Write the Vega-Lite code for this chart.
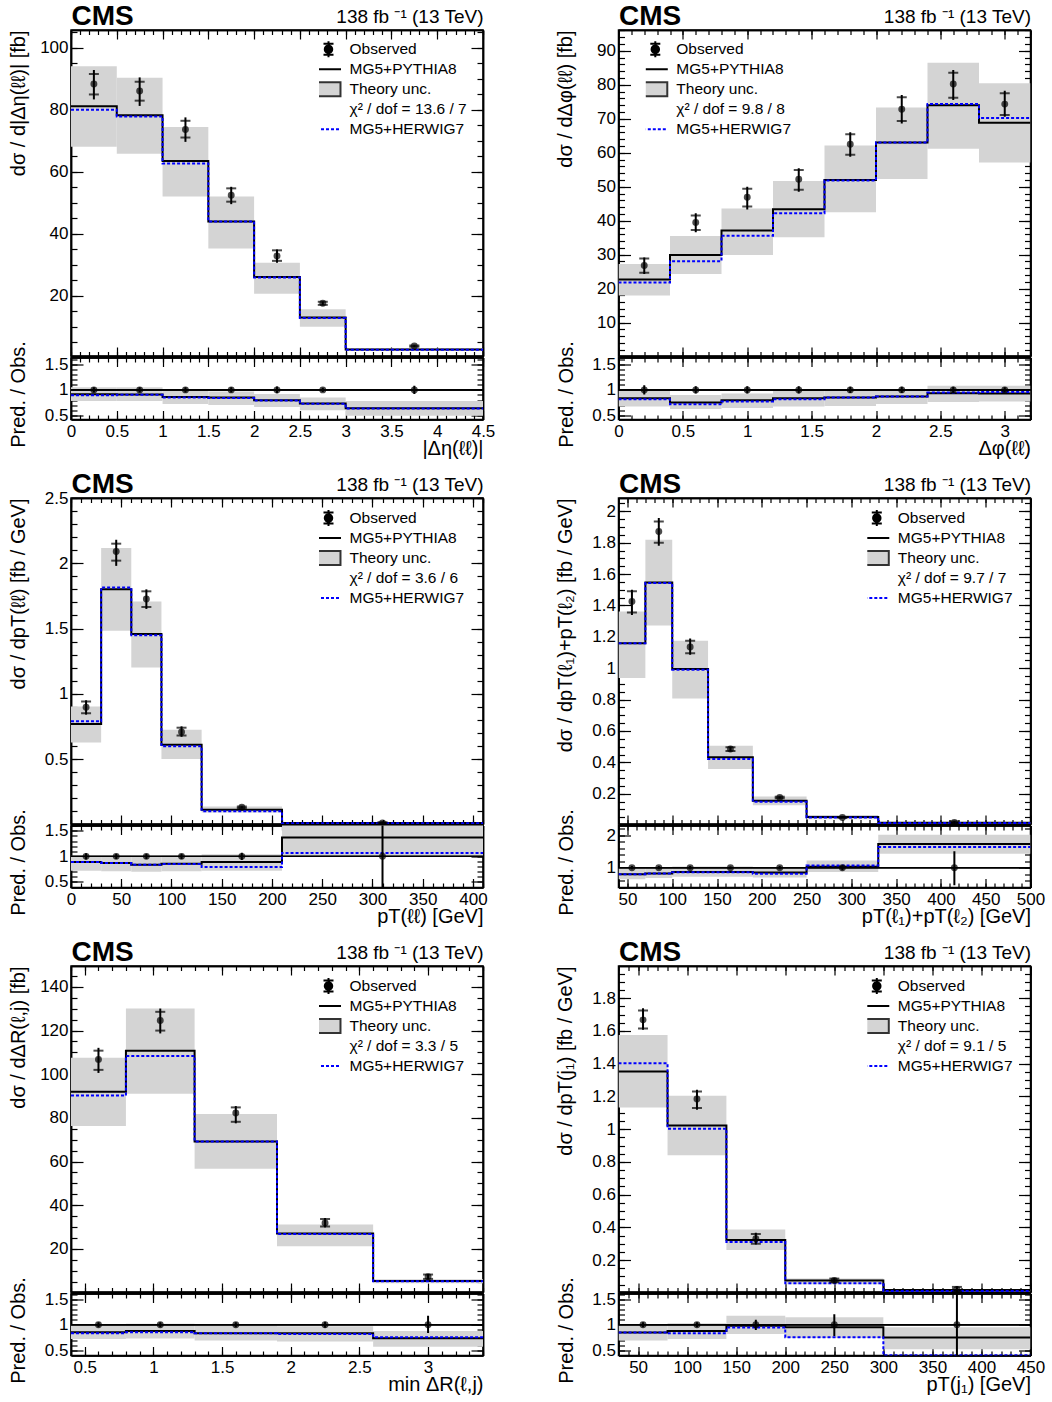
{
"$schema": "https://vega.github.io/schema/vega-lite/v6.json",
"padding": {"left": 7, "top": 1, "right": 5, "bottom": 2},
"config": {
 "font": "Liberation Sans",
 "numberFormat": "~f",
 "view": {"stroke": "black", "strokeWidth": 1.5},
 "axis": {"domain": true, "domainColor": "black", "domainWidth": 1.5, "grid": false, "labels": false, "labelFlush": false, "labelOverlap": false, "labelFont": "Liberation Sans", "labelFontSize": 17, "labelColor": "black", "tickColor": "black", "tickWidth": 1.2, "titleFont": "Liberation Sans", "titleFontSize": 20, "titleFontWeight": "normal", "titleColor": "black", "zindex": 1},
 "legend": {"padding": 0, "rowPadding": 0, "gridAlign": "all", "clipHeight": 20, "symbolSize": 289, "labelOffset": 11.5, "labelFont": "Liberation Sans", "labelFontSize": 15.5, "labelColor": "black", "labelLimit": 400, "symbolOpacity": 1},
 "point": {"filled": true, "color": "black", "size": 48},
 "rule": {"color": "black", "strokeWidth": 2},
 "tick": {"color": "black", "thickness": 2},
 "line": {"strokeWidth": 2},
 "rect": {"color": "#d4d4d4"}
},
"datasets": {
 "p1": [
  {"lo":0,"hi":0.5,"c":0.25,"o":88.3,"el":83.3,"eh":92.8,"sl":84.9,"sh":91.5,"py":81.1,"hw":80.0,"bl":68.0,"bh":94.0,"rp":0.914,"rh":0.895,"rbl":0.78,"rbh":1.05,"rel":0.946,"reh":1.054},
  {"lo":0.5,"hi":1,"c":0.75,"o":86.0,"el":81.2,"eh":90.4,"sl":82.9,"sh":89.0,"py":78.2,"hw":77.8,"bl":65.8,"bh":90.3,"rp":0.91,"rh":0.905,"rbl":0.78,"rbh":1.05,"rel":0.947,"reh":1.053},
  {"lo":1,"hi":1.5,"c":1.25,"o":73.6,"el":69.6,"eh":77.5,"sl":71.0,"sh":76.4,"py":63.4,"hw":62.6,"bl":52.0,"bh":74.4,"rp":0.862,"rh":0.85,"rbl":0.72,"rbh":0.98,"rel":0.946,"reh":1.054},
  {"lo":1.5,"hi":2,"c":1.75,"o":52.4,"el":49.5,"eh":55.1,"sl":50.3,"sh":54.6,"py":43.9,"hw":43.9,"bl":35.2,"bh":52.0,"rp":0.85,"rh":0.84,"rbl":0.7,"rbh":0.97,"rel":0.947,"reh":1.053},
  {"lo":2,"hi":2.5,"c":2.25,"o":32.8,"el":30.6,"eh":34.9,"sl":31.2,"sh":34.6,"py":26.0,"hw":25.8,"bl":20.6,"bh":30.6,"rp":0.796,"rh":0.79,"rbl":0.66,"rbh":0.92,"rel":0.935,"reh":1.065},
  {"lo":2.5,"hi":3,"c":2.75,"o":17.5,"el":16.9,"eh":18.1,"sl":17.0,"sh":18.0,"py":12.9,"hw":12.8,"bl":9.9,"bh":15.6,"rp":0.73,"rh":0.725,"rbl":0.6,"rbh":0.85,"rel":0.96,"reh":1.04},
  {"lo":3,"hi":4.5,"c":3.75,"o":3.7,"el":3.4,"eh":4.0,"sl":3.5,"sh":3.9,"py":2.56,"hw":2.5,"bl":2.2,"bh":3.0,"rp":0.638,"rh":0.632,"rbl":0.49,"rbh":0.78,"rel":0.92,"reh":1.08}
 ],
 "p2": [
  {"lo":0,"hi":0.4,"c":0.2,"o":26.8,"el":24.3,"eh":29.2,"sl":24.7,"sh":28.9,"py":22.7,"hw":21.8,"bl":18.0,"bh":27.3,"rp":0.836,"rh":0.816,"rbl":0.67,"rbh":1.02,"rel":0.91,"reh":1.09},
  {"lo":0.4,"hi":0.8,"c":0.6,"o":39.5,"el":36.6,"eh":42.2,"sl":37.3,"sh":41.5,"py":29.9,"hw":28.1,"bl":24.3,"bh":35.5,"rp":0.75,"rh":0.717,"rbl":0.62,"rbh":0.9,"rel":0.93,"reh":1.07},
  {"lo":0.8,"hi":1.2,"c":1.0,"o":46.9,"el":43.3,"eh":50.0,"sl":44.2,"sh":49.4,"py":37.1,"hw":35.6,"bl":29.9,"bh":43.6,"rp":0.796,"rh":0.77,"rbl":0.64,"rbh":0.93,"rel":0.93,"reh":1.07},
  {"lo":1.2,"hi":1.6,"c":1.4,"o":52.2,"el":48.5,"eh":55.4,"sl":49.1,"sh":54.9,"py":43.4,"hw":42.2,"bl":35.1,"bh":51.7,"rp":0.836,"rh":0.816,"rbl":0.67,"rbh":0.99,"rel":0.93,"reh":1.07},
  {"lo":1.6,"hi":2.0,"c":1.8,"o":62.5,"el":58.8,"eh":66.0,"sl":59.4,"sh":65.4,"py":52.0,"hw":51.8,"bl":42.5,"bh":62.1,"rp":0.85,"rh":0.85,"rbl":0.68,"rbh":0.99,"rel":0.94,"reh":1.06},
  {"lo":2.0,"hi":2.4,"c":2.2,"o":72.8,"el":68.6,"eh":77.0,"sl":69.3,"sh":76.3,"py":63.0,"hw":63.0,"bl":52.3,"bh":73.3,"rp":0.87,"rh":0.868,"rbl":0.72,"rbh":1.0,"rel":0.94,"reh":1.06},
  {"lo":2.4,"hi":2.8,"c":2.6,"o":80.2,"el":75.5,"eh":84.3,"sl":76.2,"sh":83.5,"py":74.0,"hw":74.3,"bl":61.2,"bh":86.5,"rp":0.934,"rh":0.947,"rbl":0.76,"rbh":1.08,"rel":0.94,"reh":1.06},
  {"lo":2.8,"hi":3.2,"c":3.0,"o":74.3,"el":70.6,"eh":78.2,"sl":71.1,"sh":77.5,"py":68.8,"hw":70.2,"bl":57.1,"bh":80.4,"rp":0.928,"rh":0.96,"rbl":0.77,"rbh":1.08,"rel":0.95,"reh":1.05}
 ],
 "p3": [
  {"lo":0,"hi":30,"c":15,"o":0.896,"el":0.84,"eh":0.95,"sl":0.85,"sh":0.94,"py":0.768,"hw":0.789,"bl":0.627,"bh":0.903,"rp":0.89,"rh":0.89,"rbl":0.72,"rbh":1.01,"rel":0.94,"reh":1.06},
  {"lo":30,"hi":60,"c":45,"o":2.09,"el":1.98,"eh":2.18,"sl":2.02,"sh":2.15,"py":1.8,"hw":1.815,"bl":1.483,"bh":2.117,"rp":0.87,"rh":0.87,"rbl":0.71,"rbh":1.01,"rel":0.95,"reh":1.05},
  {"lo":60,"hi":90,"c":75,"o":1.726,"el":1.65,"eh":1.8,"sl":1.665,"sh":1.785,"py":1.458,"hw":1.448,"bl":1.202,"bh":1.706,"rp":0.837,"rh":0.837,"rbl":0.7,"rbh":0.99,"rel":0.95,"reh":1.05},
  {"lo":90,"hi":130,"c":110,"o":0.707,"el":0.67,"eh":0.75,"sl":0.68,"sh":0.74,"py":0.61,"hw":0.597,"bl":0.5,"bh":0.725,"rp":0.856,"rh":0.85,"rbl":0.71,"rbh":1.01,"rel":0.95,"reh":1.05},
  {"lo":130,"hi":210,"c":170,"o":0.13,"el":0.122,"eh":0.138,"sl":0.124,"sh":0.136,"py":0.112,"hw":0.1,"bl":0.091,"bh":0.137,"rp":0.89,"rh":0.79,"rbl":0.72,"rbh":1.04,"rel":0.93,"reh":1.07},
  {"lo":210,"hi":410,"c":310,"o":0.01,"el":0.0,"eh":0.02,"sl":0.004,"sh":0.016,"py":0.01,"hw":0.007,"bl":0.002,"bh":0.015,"rp":1.37,"rh":1.065,"rbl":1.0,"rbh":1.75,"rel":0.2,"reh":1.8}
 ],
 "p4": [
  {"lo":40,"hi":70,"c":55,"o":1.426,"el":1.34,"eh":1.5,"sl":1.355,"sh":1.49,"py":1.159,"hw":1.159,"bl":0.937,"bh":1.362,"rp":0.8,"rh":0.8,"rbl":0.64,"rbh":1.0,"rel":0.95,"reh":1.05},
  {"lo":70,"hi":100,"c":85,"o":1.872,"el":1.78,"eh":1.957,"sl":1.8,"sh":1.935,"py":1.547,"hw":1.543,"bl":1.273,"bh":1.819,"rp":0.82,"rh":0.82,"rbl":0.68,"rbh":0.99,"rel":0.95,"reh":1.05},
  {"lo":100,"hi":140,"c":120,"o":1.135,"el":1.086,"eh":1.19,"sl":1.095,"sh":1.175,"py":0.995,"hw":0.99,"bl":0.807,"bh":1.175,"rp":0.87,"rh":0.86,"rbl":0.72,"rbh":1.04,"rel":0.95,"reh":1.05},
  {"lo":140,"hi":190,"c":165,"o":0.485,"el":0.47,"eh":0.5,"sl":0.473,"sh":0.497,"py":0.432,"hw":0.421,"bl":0.357,"bh":0.505,"rp":0.87,"rh":0.86,"rbl":0.72,"rbh":1.04,"rel":0.96,"reh":1.04},
  {"lo":190,"hi":250,"c":220,"o":0.176,"el":0.17,"eh":0.182,"sl":0.171,"sh":0.181,"py":0.155,"hw":0.149,"bl":0.126,"bh":0.183,"rp":0.85,"rh":0.81,"rbl":0.7,"rbh":1.02,"rel":0.95,"reh":1.05},
  {"lo":250,"hi":330,"c":290,"o":0.049,"el":0.046,"eh":0.052,"sl":0.0465,"sh":0.0515,"py":0.051,"hw":0.049,"bl":0.038,"bh":0.064,"rp":1.03,"rh":1.07,"rbl":0.87,"rbh":1.22,"rel":0.92,"reh":1.08},
  {"lo":330,"hi":500,"c":415,"o":0.017,"el":0.008,"eh":0.026,"sl":0.01,"sh":0.024,"py":0.015,"hw":0.013,"bl":0.009,"bh":0.02,"rp":1.73,"rh":1.64,"rbl":1.43,"rbh":2.02,"rel":0.46,"reh":1.51}
 ],
 "p5": [
  {"lo":0.4,"hi":0.8,"c":0.6,"o":106.8,"el":100.6,"eh":112.1,"sl":102.0,"sh":110.8,"py":92.0,"hw":90.2,"bl":76.3,"bh":107.5,"rp":0.855,"rh":0.836,"rbl":0.72,"rbh":1.0,"rel":0.95,"reh":1.05},
  {"lo":0.8,"hi":1.3,"c":1.05,"o":124.6,"el":118.7,"eh":130.1,"sl":120.0,"sh":128.6,"py":110.8,"hw":108.4,"bl":91.0,"bh":130.1,"rp":0.88,"rh":0.855,"rbl":0.73,"rbh":1.02,"rel":0.95,"reh":1.05},
  {"lo":1.3,"hi":1.9,"c":1.6,"o":82.2,"el":77.5,"eh":85.4,"sl":78.2,"sh":84.8,"py":69.2,"hw":69.2,"bl":56.7,"bh":81.8,"rp":0.836,"rh":0.836,"rbl":0.69,"rbh":0.98,"rel":0.95,"reh":1.05},
  {"lo":1.9,"hi":2.6,"c":2.25,"o":31.8,"el":29.8,"eh":34.1,"sl":30.2,"sh":33.6,"py":27.0,"hw":26.8,"bl":21.2,"bh":31.1,"rp":0.836,"rh":0.82,"rbl":0.67,"rbh":0.97,"rel":0.94,"reh":1.06},
  {"lo":2.6,"hi":3.4,"c":3.0,"o":7.2,"el":6.0,"eh":8.4,"sl":6.2,"sh":8.2,"py":5.2,"hw":5.1,"bl":4.2,"bh":6.0,"rp":0.737,"rh":0.757,"rbl":0.57,"rbh":0.88,"rel":0.84,"reh":1.18}
 ],
 "p6": [
  {"lo":30,"hi":80,"c":55,"o":1.668,"el":1.607,"eh":1.739,"sl":1.615,"sh":1.725,"py":1.353,"hw":1.403,"bl":1.133,"bh":1.576,"rp":0.85,"rh":0.85,"rbl":0.69,"rbh":1.0,"rel":0.95,"reh":1.05},
  {"lo":80,"hi":140,"c":110,"o":1.184,"el":1.119,"eh":1.241,"sl":1.13,"sh":1.23,"py":1.023,"hw":1.003,"bl":0.84,"bh":1.204,"rp":0.88,"rh":0.836,"rbl":0.72,"rbh":1.03,"rel":0.95,"reh":1.05},
  {"lo":140,"hi":200,"c":170,"o":0.33,"el":0.296,"eh":0.367,"sl":0.3,"sh":0.36,"py":0.322,"hw":0.31,"bl":0.261,"bh":0.387,"rp":0.98,"rh":0.947,"rbl":0.82,"rbh":1.18,"rel":0.9,"reh":1.1},
  {"lo":200,"hi":300,"c":250,"o":0.076,"el":0.062,"eh":0.09,"sl":0.065,"sh":0.087,"py":0.076,"hw":0.058,"bl":0.052,"bh":0.088,"rp":0.954,"rh":0.757,"rbl":0.74,"rbh":1.15,"rel":0.78,"reh":1.21},
  {"lo":300,"hi":450,"c":375,"o":0.021,"el":0.005,"eh":0.04,"sl":0.008,"sh":0.036,"py":0.017,"hw":0.011,"bl":0.009,"bh":0.021,"rp":0.75,"rh":0.4,"rbl":0.52,"rbh":0.954,"rel":0.3,"reh":1.7}
 ]
},
"spacing": 9,
"resolve": {"scale": {"fill": "independent", "stroke": "independent", "shape": "independent", "strokeDash": "independent", "strokeWidth": "independent"}, "legend": {"fill": "independent", "stroke": "independent", "shape": "independent", "strokeDash": "independent", "strokeWidth": "independent"}},
"vconcat": [
 {"hconcat": [
  {"vconcat": [
   {"width": 412, "height": 326, "data": {"name": "p1"}, "resolve": {"axis": {"x": "independent", "y": "independent"}},
    "layer": [
     {"mark": {"type": "rect", "clip": true}, "encoding": {
       "x": {"field": "lo", "type": "quantitative", "scale": {"domain": [0, 4.5], "nice": false, "zero": false}, "axis": {"orient": "bottom", "values": [0,0.5,1,1.5,2,2.5,3,3.5,4,4.5], "tickSize": -9, "title": null}},
       "x2": {"field": "hi"},
       "y": {"field": "bl", "type": "quantitative", "scale": {"domain": [0.5, 105.7], "nice": false, "zero": false}, "axis": {"orient": "left", "values": [20,40,60,80,100], "tickSize": -12, "labels": true, "labelPadding": 15, "title": "dσ / d|Δη(ℓℓ)| [fb]", "titleAngle": -90, "titleAlign": "right", "titleBaseline": "alphabetic", "titleX": -47, "titleY": 0}},
       "y2": {"field": "bh"}}},
     {"mark": {"type": "line", "color": "black", "clip": true}, "transform": [{"fold": ["lo", "hi"], "as": ["k", "edge"]}], "encoding": {
       "x": {"field": "edge", "type": "quantitative", "axis": {"orient": "top", "values": [0,0.5,1,1.5,2,2.5,3,3.5,4,4.5], "tickSize": -9, "title": "CMS", "titleFontSize": 28, "titleFontWeight": "bold", "titleX": 0, "titleY": -6, "titleAlign": "left", "titleBaseline": "alphabetic"}},
       "y": {"field": "py", "type": "quantitative", "axis": {"orient": "right", "values": [20,40,60,80,100], "tickSize": -12, "title": " ", "titleX": 30, "titleY": 0, "titleAngle": 0, "titleAlign": "right"}},
       "order": [{"field": "edge", "type": "quantitative"}, {"field": "lo", "type": "quantitative"}]}},
     {"mark": {"type": "line", "color": "#0000ff", "strokeDash": [3, 2], "clip": true}, "transform": [{"fold": ["lo", "hi"], "as": ["k", "edge"]}], "encoding": {
       "x": {"field": "edge", "type": "quantitative", "axis": {"orient": "bottom", "values": [0,0.1,0.2,0.3,0.4,0.5,0.6,0.7,0.8,0.9,1,1.1,1.2,1.3,1.4,1.5,1.6,1.7,1.8,1.9,2,2.1,2.2,2.3,2.4,2.5,2.6,2.7,2.8,2.9,3,3.1,3.2,3.3,3.4,3.5,3.6,3.7,3.8,3.9,4,4.1,4.2,4.3,4.4,4.5], "tickSize": -4.5, "title": null}},
       "y": {"field": "hw", "type": "quantitative", "axis": {"orient": "left", "values": [5,10,15,20,25,30,35,40,45,50,55,60,65,70,75,80,85,90,95,100,105], "tickSize": -6, "title": null}},
       "order": [{"field": "edge", "type": "quantitative"}, {"field": "lo", "type": "quantitative"}]}},
     {"mark": {"type": "rule", "clip": true}, "encoding": {
       "x": {"field": "c", "type": "quantitative", "axis": {"orient": "top", "values": [0,0.1,0.2,0.3,0.4,0.5,0.6,0.7,0.8,0.9,1,1.1,1.2,1.3,1.4,1.5,1.6,1.7,1.8,1.9,2,2.1,2.2,2.3,2.4,2.5,2.6,2.7,2.8,2.9,3,3.1,3.2,3.3,3.4,3.5,3.6,3.7,3.8,3.9,4,4.1,4.2,4.3,4.4,4.5], "tickSize": -4.5, "title": "138 fb ⁻¹ (13 TeV)", "titleFontSize": 19, "titleX": 412, "titleY": -8, "titleAlign": "right", "titleBaseline": "alphabetic"}},
       "y": {"field": "el", "type": "quantitative", "axis": {"orient": "right", "values": [5,10,15,20,25,30,35,40,45,50,55,60,65,70,75,80,85,90,95,100,105], "tickSize": -6, "title": null}},
       "y2": {"field": "eh"}}},
     {"mark": {"type": "tick", "orient": "horizontal", "size": 10, "clip": true}, "transform": [{"fold": ["sl", "sh"], "as": ["k", "sv"]}], "encoding": {
       "x": {"field": "c", "type": "quantitative", "axis": null},
       "y": {"field": "sv", "type": "quantitative", "axis": null}}},
     {"mark": {"type": "point", "clip": true}, "encoding": {
       "x": {"field": "c", "type": "quantitative", "axis": null},
       "y": {"field": "o", "type": "quantitative", "axis": null}}},
     {"data": {"values": [{"s": "Observed"}, {"s": "MG5+PYTHIA8"}, {"s": "Theory unc."}, {"s": "χ² / dof = 13.6 / 7"}, {"s": "MG5+HERWIG7"}]},
      "mark": {"type": "point", "opacity": 0},
      "encoding": {
       "fill": {"field": "s", "type": "nominal", "title": null, "scale": {"domain": ["Observed", "MG5+PYTHIA8", "Theory unc.", "χ² / dof = 13.6 / 7", "MG5+HERWIG7"], "range": ["black", "transparent", "#d4d4d4", "transparent", "transparent"]}, "legend": {"orient": "none", "legendX": 248, "legendY": 9.3}},
       "stroke": {"field": "s", "type": "nominal", "title": null, "scale": {"domain": ["Observed", "MG5+PYTHIA8", "Theory unc.", "χ² / dof = 13.6 / 7", "MG5+HERWIG7"], "range": ["black", "black", "#333333", "transparent", "#0000ff"]}},
       "shape": {"field": "s", "type": "nominal", "title": null, "scale": {"domain": ["Observed", "MG5+PYTHIA8", "Theory unc.", "χ² / dof = 13.6 / 7", "MG5+HERWIG7"], "range": ["M0,-0.94V0.94M-0.59,-0.65H0.59M-0.59,0.65H0.59M-0.435,0A0.435,0.435,0,1,1,0.435,0A0.435,0.435,0,1,1,-0.435,0Z", "M-1.47,0H1.47", "M-1.41,-0.82H1.41V0.82H-1.41Z", "M0,0", "M-1.47,0H1.47"]}},
       "strokeDash": {"field": "s", "type": "nominal", "title": null, "scale": {"domain": ["Observed", "MG5+PYTHIA8", "Theory unc.", "χ² / dof = 13.6 / 7", "MG5+HERWIG7"], "range": [[1, 0], [1, 0], [1, 0], [1, 0], [3, 2]]}},
       "strokeWidth": {"field": "s", "type": "ordinal", "title": null, "scale": {"domain": ["Observed", "MG5+PYTHIA8", "Theory unc.", "χ² / dof = 13.6 / 7", "MG5+HERWIG7"], "range": [2, 2, 1, 0, 2]}}}}
    ]},
   {"width": 412, "height": 62, "data": {"name": "p1"}, "resolve": {"axis": {"x": "independent", "y": "independent"}},
    "layer": [
     {"mark": {"type": "rect", "clip": true}, "encoding": {
       "x": {"field": "lo", "type": "quantitative", "scale": {"domain": [0, 4.5], "nice": false, "zero": false}, "axis": {"orient": "bottom", "values": [0,0.5,1,1.5,2,2.5,3,3.5,4,4.5], "tickSize": -9, "labels": true, "labelPadding": 12.5, "title": "|Δη(ℓℓ)|", "titleX": 412, "titleY": 35, "titleAlign": "right", "titleBaseline": "alphabetic"}},
       "x2": {"field": "hi"},
       "y": {"field": "rbl", "type": "quantitative", "scale": {"domain": [0.415, 1.64], "nice": false, "zero": false}, "axis": {"orient": "left", "values": [0.5,1,1.5], "tickSize": -12, "labels": true, "labelPadding": 15, "title": "Pred. / Obs.", "titleAngle": -90, "titleAlign": "center", "titleBaseline": "alphabetic", "titleX": -46.5, "titleY": 36.5}},
       "y2": {"field": "rbh"}}},
     {"mark": {"type": "rule", "strokeWidth": 1}, "encoding": {"y": {"datum": 1, "type": "quantitative", "axis": null}}},
     {"mark": {"type": "line", "color": "black", "clip": true}, "transform": [{"fold": ["lo", "hi"], "as": ["k", "edge"]}], "encoding": {
       "x": {"field": "edge", "type": "quantitative", "axis": {"orient": "top", "values": [0,0.5,1,1.5,2,2.5,3,3.5,4,4.5], "tickSize": -9, "title": null}},
       "y": {"field": "rp", "type": "quantitative", "axis": {"orient": "right", "values": [0.5,1,1.5], "tickSize": -12, "title": null}},
       "order": [{"field": "edge", "type": "quantitative"}, {"field": "lo", "type": "quantitative"}]}},
     {"mark": {"type": "line", "color": "#0000ff", "strokeDash": [3, 2], "clip": true}, "transform": [{"fold": ["lo", "hi"], "as": ["k", "edge"]}], "encoding": {
       "x": {"field": "edge", "type": "quantitative", "axis": {"orient": "bottom", "values": [0,0.1,0.2,0.3,0.4,0.5,0.6,0.7,0.8,0.9,1,1.1,1.2,1.3,1.4,1.5,1.6,1.7,1.8,1.9,2,2.1,2.2,2.3,2.4,2.5,2.6,2.7,2.8,2.9,3,3.1,3.2,3.3,3.4,3.5,3.6,3.7,3.8,3.9,4,4.1,4.2,4.3,4.4,4.5], "tickSize": -4.5, "title": null}},
       "y": {"field": "rh", "type": "quantitative", "axis": {"orient": "left", "values": [0.5,0.6,0.7,0.8,0.9,1,1.1,1.2,1.3,1.4,1.5,1.6], "tickSize": -6, "title": null}},
       "order": [{"field": "edge", "type": "quantitative"}, {"field": "lo", "type": "quantitative"}]}},
     {"mark": {"type": "rule", "clip": true}, "encoding": {
       "x": {"field": "c", "type": "quantitative", "axis": {"orient": "top", "values": [0,0.1,0.2,0.3,0.4,0.5,0.6,0.7,0.8,0.9,1,1.1,1.2,1.3,1.4,1.5,1.6,1.7,1.8,1.9,2,2.1,2.2,2.3,2.4,2.5,2.6,2.7,2.8,2.9,3,3.1,3.2,3.3,3.4,3.5,3.6,3.7,3.8,3.9,4,4.1,4.2,4.3,4.4,4.5], "tickSize": -4.5, "title": null}},
       "y": {"field": "rel", "type": "quantitative", "axis": {"orient": "right", "values": [0.5,0.6,0.7,0.8,0.9,1,1.1,1.2,1.3,1.4,1.5,1.6], "tickSize": -6, "title": null}},
       "y2": {"field": "reh"}}},
     {"mark": {"type": "point", "clip": true}, "encoding": {
       "x": {"field": "c", "type": "quantitative", "axis": null},
       "y": {"datum": 1, "type": "quantitative", "axis": null}}}
    ]}
  ], "spacing": 1.5, "bounds": "flush", "resolve": {"scale": {"fill": "independent", "stroke": "independent", "shape": "independent", "strokeDash": "independent", "strokeWidth": "independent"}, "legend": {"fill": "independent", "stroke": "independent", "shape": "independent", "strokeDash": "independent", "strokeWidth": "independent"}}},
  {"vconcat": [
   {"width": 412, "height": 326, "data": {"name": "p2"}, "resolve": {"axis": {"x": "independent", "y": "independent"}},
    "layer": [
     {"mark": {"type": "rect", "clip": true}, "encoding": {
       "x": {"field": "lo", "type": "quantitative", "scale": {"domain": [0, 3.2], "nice": false, "zero": false}, "axis": {"orient": "bottom", "values": [0,0.5,1,1.5,2,2.5,3], "tickSize": -9, "title": null}},
       "x2": {"field": "hi"},
       "y": {"field": "bl", "type": "quantitative", "scale": {"domain": [0.2, 96.1], "nice": false, "zero": false}, "axis": {"orient": "left", "values": [10,20,30,40,50,60,70,80,90], "tickSize": -12, "labels": true, "labelPadding": 15, "title": "dσ / dΔφ(ℓℓ) [fb]", "titleAngle": -90, "titleAlign": "right", "titleBaseline": "alphabetic", "titleX": -47, "titleY": 0}},
       "y2": {"field": "bh"}}},
     {"mark": {"type": "line", "color": "black", "clip": true}, "transform": [{"fold": ["lo", "hi"], "as": ["k", "edge"]}], "encoding": {
       "x": {"field": "edge", "type": "quantitative", "axis": {"orient": "top", "values": [0,0.5,1,1.5,2,2.5,3], "tickSize": -9, "title": "CMS", "titleFontSize": 28, "titleFontWeight": "bold", "titleX": 0, "titleY": -6, "titleAlign": "left", "titleBaseline": "alphabetic"}},
       "y": {"field": "py", "type": "quantitative", "axis": {"orient": "right", "values": [10,20,30,40,50,60,70,80,90], "tickSize": -12, "title": null}},
       "order": [{"field": "edge", "type": "quantitative"}, {"field": "lo", "type": "quantitative"}]}},
     {"mark": {"type": "line", "color": "#0000ff", "strokeDash": [3, 2], "clip": true}, "transform": [{"fold": ["lo", "hi"], "as": ["k", "edge"]}], "encoding": {
       "x": {"field": "edge", "type": "quantitative", "axis": {"orient": "bottom", "values": [0,0.1,0.2,0.3,0.4,0.5,0.6,0.7,0.8,0.9,1,1.1,1.2,1.3,1.4,1.5,1.6,1.7,1.8,1.9,2,2.1,2.2,2.3,2.4,2.5,2.6,2.7,2.8,2.9,3,3.1,3.2], "tickSize": -4.5, "title": null}},
       "y": {"field": "hw", "type": "quantitative", "axis": {"orient": "left", "values": [2,4,6,8,10,12,14,16,18,20,22,24,26,28,30,32,34,36,38,40,42,44,46,48,50,52,54,56,58,60,62,64,66,68,70,72,74,76,78,80,82,84,86,88,90,92,94,96], "tickSize": -6, "title": null}},
       "order": [{"field": "edge", "type": "quantitative"}, {"field": "lo", "type": "quantitative"}]}},
     {"mark": {"type": "rule", "clip": true}, "encoding": {
       "x": {"field": "c", "type": "quantitative", "axis": {"orient": "top", "values": [0,0.1,0.2,0.3,0.4,0.5,0.6,0.7,0.8,0.9,1,1.1,1.2,1.3,1.4,1.5,1.6,1.7,1.8,1.9,2,2.1,2.2,2.3,2.4,2.5,2.6,2.7,2.8,2.9,3,3.1,3.2], "tickSize": -4.5, "title": "138 fb ⁻¹ (13 TeV)", "titleFontSize": 19, "titleX": 412, "titleY": -8, "titleAlign": "right", "titleBaseline": "alphabetic"}},
       "y": {"field": "el", "type": "quantitative", "axis": {"orient": "right", "values": [2,4,6,8,10,12,14,16,18,20,22,24,26,28,30,32,34,36,38,40,42,44,46,48,50,52,54,56,58,60,62,64,66,68,70,72,74,76,78,80,82,84,86,88,90,92,94,96], "tickSize": -6, "title": null}},
       "y2": {"field": "eh"}}},
     {"mark": {"type": "tick", "orient": "horizontal", "size": 10, "clip": true}, "transform": [{"fold": ["sl", "sh"], "as": ["k", "sv"]}], "encoding": {
       "x": {"field": "c", "type": "quantitative", "axis": null},
       "y": {"field": "sv", "type": "quantitative", "axis": null}}},
     {"mark": {"type": "point", "clip": true}, "encoding": {
       "x": {"field": "c", "type": "quantitative", "axis": null},
       "y": {"field": "o", "type": "quantitative", "axis": null}}},
     {"data": {"values": [{"s": "Observed"}, {"s": "MG5+PYTHIA8"}, {"s": "Theory unc."}, {"s": "χ² / dof = 9.8 / 8"}, {"s": "MG5+HERWIG7"}]},
      "mark": {"type": "point", "opacity": 0},
      "encoding": {
       "fill": {"field": "s", "type": "nominal", "title": null, "scale": {"domain": ["Observed", "MG5+PYTHIA8", "Theory unc.", "χ² / dof = 9.8 / 8", "MG5+HERWIG7"], "range": ["black", "transparent", "#d4d4d4", "transparent", "transparent"]}, "legend": {"orient": "none", "legendX": 27.3, "legendY": 9.3}},
       "stroke": {"field": "s", "type": "nominal", "title": null, "scale": {"domain": ["Observed", "MG5+PYTHIA8", "Theory unc.", "χ² / dof = 9.8 / 8", "MG5+HERWIG7"], "range": ["black", "black", "#333333", "transparent", "#0000ff"]}},
       "shape": {"field": "s", "type": "nominal", "title": null, "scale": {"domain": ["Observed", "MG5+PYTHIA8", "Theory unc.", "χ² / dof = 9.8 / 8", "MG5+HERWIG7"], "range": ["M0,-0.94V0.94M-0.59,-0.65H0.59M-0.59,0.65H0.59M-0.435,0A0.435,0.435,0,1,1,0.435,0A0.435,0.435,0,1,1,-0.435,0Z", "M-1.47,0H1.47", "M-1.41,-0.82H1.41V0.82H-1.41Z", "M0,0", "M-1.47,0H1.47"]}},
       "strokeDash": {"field": "s", "type": "nominal", "title": null, "scale": {"domain": ["Observed", "MG5+PYTHIA8", "Theory unc.", "χ² / dof = 9.8 / 8", "MG5+HERWIG7"], "range": [[1, 0], [1, 0], [1, 0], [1, 0], [3, 2]]}},
       "strokeWidth": {"field": "s", "type": "ordinal", "title": null, "scale": {"domain": ["Observed", "MG5+PYTHIA8", "Theory unc.", "χ² / dof = 9.8 / 8", "MG5+HERWIG7"], "range": [2, 2, 1, 0, 2]}}}}
    ]},
   {"width": 412, "height": 62, "data": {"name": "p2"}, "resolve": {"axis": {"x": "independent", "y": "independent"}},
    "layer": [
     {"mark": {"type": "rect", "clip": true}, "encoding": {
       "x": {"field": "lo", "type": "quantitative", "scale": {"domain": [0, 3.2], "nice": false, "zero": false}, "axis": {"orient": "bottom", "values": [0,0.5,1,1.5,2,2.5,3], "tickSize": -9, "labels": true, "labelPadding": 12.5, "title": "Δφ(ℓℓ)", "titleX": 412, "titleY": 35, "titleAlign": "right", "titleBaseline": "alphabetic"}},
       "x2": {"field": "hi"},
       "y": {"field": "rbl", "type": "quantitative", "scale": {"domain": [0.415, 1.64], "nice": false, "zero": false}, "axis": {"orient": "left", "values": [0.5,1,1.5], "tickSize": -12, "labels": true, "labelPadding": 15, "title": "Pred. / Obs.", "titleAngle": -90, "titleAlign": "center", "titleBaseline": "alphabetic", "titleX": -46.5, "titleY": 36.5}},
       "y2": {"field": "rbh"}}},
     {"mark": {"type": "rule", "strokeWidth": 1}, "encoding": {"y": {"datum": 1, "type": "quantitative", "axis": null}}},
     {"mark": {"type": "line", "color": "black", "clip": true}, "transform": [{"fold": ["lo", "hi"], "as": ["k", "edge"]}], "encoding": {
       "x": {"field": "edge", "type": "quantitative", "axis": {"orient": "top", "values": [0,0.5,1,1.5,2,2.5,3], "tickSize": -9, "title": null}},
       "y": {"field": "rp", "type": "quantitative", "axis": {"orient": "right", "values": [0.5,1,1.5], "tickSize": -12, "title": null}},
       "order": [{"field": "edge", "type": "quantitative"}, {"field": "lo", "type": "quantitative"}]}},
     {"mark": {"type": "line", "color": "#0000ff", "strokeDash": [3, 2], "clip": true}, "transform": [{"fold": ["lo", "hi"], "as": ["k", "edge"]}], "encoding": {
       "x": {"field": "edge", "type": "quantitative", "axis": {"orient": "bottom", "values": [0,0.1,0.2,0.3,0.4,0.5,0.6,0.7,0.8,0.9,1,1.1,1.2,1.3,1.4,1.5,1.6,1.7,1.8,1.9,2,2.1,2.2,2.3,2.4,2.5,2.6,2.7,2.8,2.9,3,3.1,3.2], "tickSize": -4.5, "title": null}},
       "y": {"field": "rh", "type": "quantitative", "axis": {"orient": "left", "values": [0.5,0.6,0.7,0.8,0.9,1,1.1,1.2,1.3,1.4,1.5,1.6], "tickSize": -6, "title": null}},
       "order": [{"field": "edge", "type": "quantitative"}, {"field": "lo", "type": "quantitative"}]}},
     {"mark": {"type": "rule", "clip": true}, "encoding": {
       "x": {"field": "c", "type": "quantitative", "axis": {"orient": "top", "values": [0,0.1,0.2,0.3,0.4,0.5,0.6,0.7,0.8,0.9,1,1.1,1.2,1.3,1.4,1.5,1.6,1.7,1.8,1.9,2,2.1,2.2,2.3,2.4,2.5,2.6,2.7,2.8,2.9,3,3.1,3.2], "tickSize": -4.5, "title": null}},
       "y": {"field": "rel", "type": "quantitative", "axis": {"orient": "right", "values": [0.5,0.6,0.7,0.8,0.9,1,1.1,1.2,1.3,1.4,1.5,1.6], "tickSize": -6, "title": null}},
       "y2": {"field": "reh"}}},
     {"mark": {"type": "point", "clip": true}, "encoding": {
       "x": {"field": "c", "type": "quantitative", "axis": null},
       "y": {"datum": 1, "type": "quantitative", "axis": null}}}
    ]}
  ], "spacing": 1.5, "bounds": "flush", "resolve": {"scale": {"fill": "independent", "stroke": "independent", "shape": "independent", "strokeDash": "independent", "strokeWidth": "independent"}, "legend": {"fill": "independent", "stroke": "independent", "shape": "independent", "strokeDash": "independent", "strokeWidth": "independent"}}}
 ], "spacing": 40.5, "resolve": {"scale": {"fill": "independent", "stroke": "independent", "shape": "independent", "strokeDash": "independent", "strokeWidth": "independent"}, "legend": {"fill": "independent", "stroke": "independent", "shape": "independent", "strokeDash": "independent", "strokeWidth": "independent"}}},
 {"hconcat": [
  {"vconcat": [
   {"width": 412, "height": 326, "data": {"name": "p3"}, "resolve": {"axis": {"x": "independent", "y": "independent"}},
    "layer": [
     {"mark": {"type": "rect", "clip": true}, "encoding": {
       "x": {"field": "lo", "type": "quantitative", "scale": {"domain": [0, 410], "nice": false, "zero": false}, "axis": {"orient": "bottom", "values": [0,50,100,150,200,250,300,350,400], "tickSize": -9, "title": null}},
       "x2": {"field": "hi"},
       "y": {"field": "bl", "type": "quantitative", "scale": {"domain": [0.002, 2.5], "nice": false, "zero": false}, "axis": {"orient": "left", "values": [0.5,1,1.5,2,2.5], "tickSize": -12, "labels": true, "labelPadding": 15, "title": "dσ / dpT(ℓℓ) [fb / GeV]", "titleAngle": -90, "titleAlign": "right", "titleBaseline": "alphabetic", "titleX": -47, "titleY": 0}},
       "y2": {"field": "bh"}}},
     {"mark": {"type": "line", "color": "black", "clip": true}, "transform": [{"fold": ["lo", "hi"], "as": ["k", "edge"]}], "encoding": {
       "x": {"field": "edge", "type": "quantitative", "axis": {"orient": "top", "values": [0,50,100,150,200,250,300,350,400], "tickSize": -9, "title": "CMS", "titleFontSize": 28, "titleFontWeight": "bold", "titleX": 0, "titleY": -6, "titleAlign": "left", "titleBaseline": "alphabetic"}},
       "y": {"field": "py", "type": "quantitative", "axis": {"orient": "right", "values": [0.5,1,1.5,2,2.5], "tickSize": -12, "title": " ", "titleX": 30, "titleY": 0, "titleAngle": 0, "titleAlign": "right"}},
       "order": [{"field": "edge", "type": "quantitative"}, {"field": "lo", "type": "quantitative"}]}},
     {"mark": {"type": "line", "color": "#0000ff", "strokeDash": [3, 2], "clip": true}, "transform": [{"fold": ["lo", "hi"], "as": ["k", "edge"]}], "encoding": {
       "x": {"field": "edge", "type": "quantitative", "axis": {"orient": "bottom", "values": [0,10,20,30,40,50,60,70,80,90,100,110,120,130,140,150,160,170,180,190,200,210,220,230,240,250,260,270,280,290,300,310,320,330,340,350,360,370,380,390,400,410], "tickSize": -4.5, "title": null}},
       "y": {"field": "hw", "type": "quantitative", "axis": {"orient": "left", "values": [0.1,0.2,0.3,0.4,0.5,0.6,0.7,0.8,0.9,1,1.1,1.2,1.3,1.4,1.5,1.6,1.7,1.8,1.9,2,2.1,2.2,2.3,2.4,2.5], "tickSize": -6, "title": null}},
       "order": [{"field": "edge", "type": "quantitative"}, {"field": "lo", "type": "quantitative"}]}},
     {"mark": {"type": "rule", "clip": true}, "encoding": {
       "x": {"field": "c", "type": "quantitative", "axis": {"orient": "top", "values": [0,10,20,30,40,50,60,70,80,90,100,110,120,130,140,150,160,170,180,190,200,210,220,230,240,250,260,270,280,290,300,310,320,330,340,350,360,370,380,390,400,410], "tickSize": -4.5, "title": "138 fb ⁻¹ (13 TeV)", "titleFontSize": 19, "titleX": 412, "titleY": -8, "titleAlign": "right", "titleBaseline": "alphabetic"}},
       "y": {"field": "el", "type": "quantitative", "axis": {"orient": "right", "values": [0.1,0.2,0.3,0.4,0.5,0.6,0.7,0.8,0.9,1,1.1,1.2,1.3,1.4,1.5,1.6,1.7,1.8,1.9,2,2.1,2.2,2.3,2.4,2.5], "tickSize": -6, "title": null}},
       "y2": {"field": "eh"}}},
     {"mark": {"type": "tick", "orient": "horizontal", "size": 10, "clip": true}, "transform": [{"fold": ["sl", "sh"], "as": ["k", "sv"]}], "encoding": {
       "x": {"field": "c", "type": "quantitative", "axis": null},
       "y": {"field": "sv", "type": "quantitative", "axis": null}}},
     {"mark": {"type": "point", "clip": true}, "encoding": {
       "x": {"field": "c", "type": "quantitative", "axis": null},
       "y": {"field": "o", "type": "quantitative", "axis": null}}},
     {"data": {"values": [{"s": "Observed"}, {"s": "MG5+PYTHIA8"}, {"s": "Theory unc."}, {"s": "χ² / dof = 3.6 / 6"}, {"s": "MG5+HERWIG7"}]},
      "mark": {"type": "point", "opacity": 0},
      "encoding": {
       "fill": {"field": "s", "type": "nominal", "title": null, "scale": {"domain": ["Observed", "MG5+PYTHIA8", "Theory unc.", "χ² / dof = 3.6 / 6", "MG5+HERWIG7"], "range": ["black", "transparent", "#d4d4d4", "transparent", "transparent"]}, "legend": {"orient": "none", "legendX": 248, "legendY": 10}},
       "stroke": {"field": "s", "type": "nominal", "title": null, "scale": {"domain": ["Observed", "MG5+PYTHIA8", "Theory unc.", "χ² / dof = 3.6 / 6", "MG5+HERWIG7"], "range": ["black", "black", "#333333", "transparent", "#0000ff"]}},
       "shape": {"field": "s", "type": "nominal", "title": null, "scale": {"domain": ["Observed", "MG5+PYTHIA8", "Theory unc.", "χ² / dof = 3.6 / 6", "MG5+HERWIG7"], "range": ["M0,-0.94V0.94M-0.59,-0.65H0.59M-0.59,0.65H0.59M-0.435,0A0.435,0.435,0,1,1,0.435,0A0.435,0.435,0,1,1,-0.435,0Z", "M-1.47,0H1.47", "M-1.41,-0.82H1.41V0.82H-1.41Z", "M0,0", "M-1.47,0H1.47"]}},
       "strokeDash": {"field": "s", "type": "nominal", "title": null, "scale": {"domain": ["Observed", "MG5+PYTHIA8", "Theory unc.", "χ² / dof = 3.6 / 6", "MG5+HERWIG7"], "range": [[1, 0], [1, 0], [1, 0], [1, 0], [3, 2]]}},
       "strokeWidth": {"field": "s", "type": "ordinal", "title": null, "scale": {"domain": ["Observed", "MG5+PYTHIA8", "Theory unc.", "χ² / dof = 3.6 / 6", "MG5+HERWIG7"], "range": [2, 2, 1, 0, 2]}}}}
    ]},
   {"width": 412, "height": 62, "data": {"name": "p3"}, "resolve": {"axis": {"x": "independent", "y": "independent"}},
    "layer": [
     {"mark": {"type": "rect", "clip": true}, "encoding": {
       "x": {"field": "lo", "type": "quantitative", "scale": {"domain": [0, 410], "nice": false, "zero": false}, "axis": {"orient": "bottom", "values": [0,50,100,150,200,250,300,350,400], "tickSize": -9, "labels": true, "labelPadding": 12.5, "title": "pT(ℓℓ) [GeV]", "titleX": 412, "titleY": 35, "titleAlign": "right", "titleBaseline": "alphabetic"}},
       "x2": {"field": "hi"},
       "y": {"field": "rbl", "type": "quantitative", "scale": {"domain": [0.39, 1.605], "nice": false, "zero": false}, "axis": {"orient": "left", "values": [0.5,1,1.5], "tickSize": -12, "labels": true, "labelPadding": 15, "title": "Pred. / Obs.", "titleAngle": -90, "titleAlign": "center", "titleBaseline": "alphabetic", "titleX": -46.5, "titleY": 36.5}},
       "y2": {"field": "rbh"}}},
     {"mark": {"type": "rule", "strokeWidth": 1}, "encoding": {"y": {"datum": 1, "type": "quantitative", "axis": null}}},
     {"mark": {"type": "line", "color": "black", "clip": true}, "transform": [{"fold": ["lo", "hi"], "as": ["k", "edge"]}], "encoding": {
       "x": {"field": "edge", "type": "quantitative", "axis": {"orient": "top", "values": [0,50,100,150,200,250,300,350,400], "tickSize": -9, "title": null}},
       "y": {"field": "rp", "type": "quantitative", "axis": {"orient": "right", "values": [0.5,1,1.5], "tickSize": -12, "title": null}},
       "order": [{"field": "edge", "type": "quantitative"}, {"field": "lo", "type": "quantitative"}]}},
     {"mark": {"type": "line", "color": "#0000ff", "strokeDash": [3, 2], "clip": true}, "transform": [{"fold": ["lo", "hi"], "as": ["k", "edge"]}], "encoding": {
       "x": {"field": "edge", "type": "quantitative", "axis": {"orient": "bottom", "values": [0,10,20,30,40,50,60,70,80,90,100,110,120,130,140,150,160,170,180,190,200,210,220,230,240,250,260,270,280,290,300,310,320,330,340,350,360,370,380,390,400,410], "tickSize": -4.5, "title": null}},
       "y": {"field": "rh", "type": "quantitative", "axis": {"orient": "left", "values": [0.5,0.6,0.7,0.8,0.9,1,1.1,1.2,1.3,1.4,1.5,1.6], "tickSize": -6, "title": null}},
       "order": [{"field": "edge", "type": "quantitative"}, {"field": "lo", "type": "quantitative"}]}},
     {"mark": {"type": "rule", "clip": true}, "encoding": {
       "x": {"field": "c", "type": "quantitative", "axis": {"orient": "top", "values": [0,10,20,30,40,50,60,70,80,90,100,110,120,130,140,150,160,170,180,190,200,210,220,230,240,250,260,270,280,290,300,310,320,330,340,350,360,370,380,390,400,410], "tickSize": -4.5, "title": null}},
       "y": {"field": "rel", "type": "quantitative", "axis": {"orient": "right", "values": [0.5,0.6,0.7,0.8,0.9,1,1.1,1.2,1.3,1.4,1.5,1.6], "tickSize": -6, "title": null}},
       "y2": {"field": "reh"}}},
     {"mark": {"type": "point", "clip": true}, "encoding": {
       "x": {"field": "c", "type": "quantitative", "axis": null},
       "y": {"datum": 1, "type": "quantitative", "axis": null}}}
    ]}
  ], "spacing": 1.5, "bounds": "flush", "resolve": {"scale": {"fill": "independent", "stroke": "independent", "shape": "independent", "strokeDash": "independent", "strokeWidth": "independent"}, "legend": {"fill": "independent", "stroke": "independent", "shape": "independent", "strokeDash": "independent", "strokeWidth": "independent"}}},
  {"vconcat": [
   {"width": 412, "height": 326, "data": {"name": "p4"}, "resolve": {"axis": {"x": "independent", "y": "independent"}},
    "layer": [
     {"mark": {"type": "rect", "clip": true}, "encoding": {
       "x": {"field": "lo", "type": "quantitative", "scale": {"domain": [40, 500], "nice": false, "zero": false}, "axis": {"orient": "bottom", "values": [50,100,150,200,250,300,350,400,450,500], "tickSize": -9, "title": null}},
       "x2": {"field": "hi"},
       "y": {"field": "bl", "type": "quantitative", "scale": {"domain": [0.007, 2.085], "nice": false, "zero": false}, "axis": {"orient": "left", "values": [0.2,0.4,0.6,0.8,1,1.2,1.4,1.6,1.8,2], "tickSize": -12, "labels": true, "labelPadding": 15, "title": "dσ / dpT(ℓ₁)+pT(ℓ₂) [fb / GeV]", "titleAngle": -90, "titleAlign": "right", "titleBaseline": "alphabetic", "titleX": -47, "titleY": 0}},
       "y2": {"field": "bh"}}},
     {"mark": {"type": "line", "color": "black", "clip": true}, "transform": [{"fold": ["lo", "hi"], "as": ["k", "edge"]}], "encoding": {
       "x": {"field": "edge", "type": "quantitative", "axis": {"orient": "top", "values": [50,100,150,200,250,300,350,400,450,500], "tickSize": -9, "title": "CMS", "titleFontSize": 28, "titleFontWeight": "bold", "titleX": 0, "titleY": -6, "titleAlign": "left", "titleBaseline": "alphabetic"}},
       "y": {"field": "py", "type": "quantitative", "axis": {"orient": "right", "values": [0.2,0.4,0.6,0.8,1,1.2,1.4,1.6,1.8,2], "tickSize": -12, "title": null}},
       "order": [{"field": "edge", "type": "quantitative"}, {"field": "lo", "type": "quantitative"}]}},
     {"mark": {"type": "line", "color": "#0000ff", "strokeDash": [3, 2], "clip": true}, "transform": [{"fold": ["lo", "hi"], "as": ["k", "edge"]}], "encoding": {
       "x": {"field": "edge", "type": "quantitative", "axis": {"orient": "bottom", "values": [40,50,60,70,80,90,100,110,120,130,140,150,160,170,180,190,200,210,220,230,240,250,260,270,280,290,300,310,320,330,340,350,360,370,380,390,400,410,420,430,440,450,460,470,480,490,500], "tickSize": -4.5, "title": null}},
       "y": {"field": "hw", "type": "quantitative", "axis": {"orient": "left", "values": [0.05,0.1,0.15,0.2,0.25,0.3,0.35,0.4,0.45,0.5,0.55,0.6,0.65,0.7,0.75,0.8,0.85,0.9,0.95,1,1.05,1.1,1.15,1.2,1.25,1.3,1.35,1.4,1.45,1.5,1.55,1.6,1.65,1.7,1.75,1.8,1.85,1.9,1.95,2,2.05], "tickSize": -6, "title": null}},
       "order": [{"field": "edge", "type": "quantitative"}, {"field": "lo", "type": "quantitative"}]}},
     {"mark": {"type": "rule", "clip": true}, "encoding": {
       "x": {"field": "c", "type": "quantitative", "axis": {"orient": "top", "values": [40,50,60,70,80,90,100,110,120,130,140,150,160,170,180,190,200,210,220,230,240,250,260,270,280,290,300,310,320,330,340,350,360,370,380,390,400,410,420,430,440,450,460,470,480,490,500], "tickSize": -4.5, "title": "138 fb ⁻¹ (13 TeV)", "titleFontSize": 19, "titleX": 412, "titleY": -8, "titleAlign": "right", "titleBaseline": "alphabetic"}},
       "y": {"field": "el", "type": "quantitative", "axis": {"orient": "right", "values": [0.05,0.1,0.15,0.2,0.25,0.3,0.35,0.4,0.45,0.5,0.55,0.6,0.65,0.7,0.75,0.8,0.85,0.9,0.95,1,1.05,1.1,1.15,1.2,1.25,1.3,1.35,1.4,1.45,1.5,1.55,1.6,1.65,1.7,1.75,1.8,1.85,1.9,1.95,2,2.05], "tickSize": -6, "title": null}},
       "y2": {"field": "eh"}}},
     {"mark": {"type": "tick", "orient": "horizontal", "size": 10, "clip": true}, "transform": [{"fold": ["sl", "sh"], "as": ["k", "sv"]}], "encoding": {
       "x": {"field": "c", "type": "quantitative", "axis": null},
       "y": {"field": "sv", "type": "quantitative", "axis": null}}},
     {"mark": {"type": "point", "clip": true}, "encoding": {
       "x": {"field": "c", "type": "quantitative", "axis": null},
       "y": {"field": "o", "type": "quantitative", "axis": null}}},
     {"data": {"values": [{"s": "Observed"}, {"s": "MG5+PYTHIA8"}, {"s": "Theory unc."}, {"s": "χ² / dof = 9.7 / 7"}, {"s": "MG5+HERWIG7"}]},
      "mark": {"type": "point", "opacity": 0},
      "encoding": {
       "fill": {"field": "s", "type": "nominal", "title": null, "scale": {"domain": ["Observed", "MG5+PYTHIA8", "Theory unc.", "χ² / dof = 9.7 / 7", "MG5+HERWIG7"], "range": ["black", "transparent", "#d4d4d4", "transparent", "transparent"]}, "legend": {"orient": "none", "legendX": 248.8, "legendY": 10}},
       "stroke": {"field": "s", "type": "nominal", "title": null, "scale": {"domain": ["Observed", "MG5+PYTHIA8", "Theory unc.", "χ² / dof = 9.7 / 7", "MG5+HERWIG7"], "range": ["black", "black", "#333333", "transparent", "#0000ff"]}},
       "shape": {"field": "s", "type": "nominal", "title": null, "scale": {"domain": ["Observed", "MG5+PYTHIA8", "Theory unc.", "χ² / dof = 9.7 / 7", "MG5+HERWIG7"], "range": ["M0,-0.94V0.94M-0.59,-0.65H0.59M-0.59,0.65H0.59M-0.435,0A0.435,0.435,0,1,1,0.435,0A0.435,0.435,0,1,1,-0.435,0Z", "M-1.47,0H1.47", "M-1.41,-0.82H1.41V0.82H-1.41Z", "M0,0", "M-1.47,0H1.47"]}},
       "strokeDash": {"field": "s", "type": "nominal", "title": null, "scale": {"domain": ["Observed", "MG5+PYTHIA8", "Theory unc.", "χ² / dof = 9.7 / 7", "MG5+HERWIG7"], "range": [[1, 0], [1, 0], [1, 0], [1, 0], [3, 2]]}},
       "strokeWidth": {"field": "s", "type": "ordinal", "title": null, "scale": {"domain": ["Observed", "MG5+PYTHIA8", "Theory unc.", "χ² / dof = 9.7 / 7", "MG5+HERWIG7"], "range": [2, 2, 1, 0, 2]}}}}
    ]},
   {"width": 412, "height": 62, "data": {"name": "p4"}, "resolve": {"axis": {"x": "independent", "y": "independent"}},
    "layer": [
     {"mark": {"type": "rect", "clip": true}, "encoding": {
       "x": {"field": "lo", "type": "quantitative", "scale": {"domain": [40, 500], "nice": false, "zero": false}, "axis": {"orient": "bottom", "values": [50,100,150,200,250,300,350,400,450,500], "tickSize": -9, "labels": true, "labelPadding": 12.5, "title": "pT(ℓ₁)+pT(ℓ₂) [GeV]", "titleX": 412, "titleY": 35, "titleAlign": "right", "titleBaseline": "alphabetic"}},
       "x2": {"field": "hi"},
       "y": {"field": "rbl", "type": "quantitative", "scale": {"domain": [0.388, 2.306], "nice": false, "zero": false}, "axis": {"orient": "left", "values": [1,2], "tickSize": -12, "labels": true, "labelPadding": 15, "title": "Pred. / Obs.", "titleAngle": -90, "titleAlign": "center", "titleBaseline": "alphabetic", "titleX": -46.5, "titleY": 36.5}},
       "y2": {"field": "rbh"}}},
     {"mark": {"type": "rule", "strokeWidth": 1}, "encoding": {"y": {"datum": 1, "type": "quantitative", "axis": null}}},
     {"mark": {"type": "line", "color": "black", "clip": true}, "transform": [{"fold": ["lo", "hi"], "as": ["k", "edge"]}], "encoding": {
       "x": {"field": "edge", "type": "quantitative", "axis": {"orient": "top", "values": [50,100,150,200,250,300,350,400,450,500], "tickSize": -9, "title": null}},
       "y": {"field": "rp", "type": "quantitative", "axis": {"orient": "right", "values": [1,2], "tickSize": -12, "title": null}},
       "order": [{"field": "edge", "type": "quantitative"}, {"field": "lo", "type": "quantitative"}]}},
     {"mark": {"type": "line", "color": "#0000ff", "strokeDash": [3, 2], "clip": true}, "transform": [{"fold": ["lo", "hi"], "as": ["k", "edge"]}], "encoding": {
       "x": {"field": "edge", "type": "quantitative", "axis": {"orient": "bottom", "values": [40,50,60,70,80,90,100,110,120,130,140,150,160,170,180,190,200,210,220,230,240,250,260,270,280,290,300,310,320,330,340,350,360,370,380,390,400,410,420,430,440,450,460,470,480,490,500], "tickSize": -4.5, "title": null}},
       "y": {"field": "rh", "type": "quantitative", "axis": {"orient": "left", "values": [0.4,0.6,0.8,1,1.2,1.4,1.6,1.8,2,2.2], "tickSize": -6, "title": null}},
       "order": [{"field": "edge", "type": "quantitative"}, {"field": "lo", "type": "quantitative"}]}},
     {"mark": {"type": "rule", "clip": true}, "encoding": {
       "x": {"field": "c", "type": "quantitative", "axis": {"orient": "top", "values": [40,50,60,70,80,90,100,110,120,130,140,150,160,170,180,190,200,210,220,230,240,250,260,270,280,290,300,310,320,330,340,350,360,370,380,390,400,410,420,430,440,450,460,470,480,490,500], "tickSize": -4.5, "title": null}},
       "y": {"field": "rel", "type": "quantitative", "axis": {"orient": "right", "values": [0.4,0.6,0.8,1,1.2,1.4,1.6,1.8,2,2.2], "tickSize": -6, "title": null}},
       "y2": {"field": "reh"}}},
     {"mark": {"type": "point", "clip": true}, "encoding": {
       "x": {"field": "c", "type": "quantitative", "axis": null},
       "y": {"datum": 1, "type": "quantitative", "axis": null}}}
    ]}
  ], "spacing": 1.5, "bounds": "flush", "resolve": {"scale": {"fill": "independent", "stroke": "independent", "shape": "independent", "strokeDash": "independent", "strokeWidth": "independent"}, "legend": {"fill": "independent", "stroke": "independent", "shape": "independent", "strokeDash": "independent", "strokeWidth": "independent"}}}
 ], "spacing": 40.5, "resolve": {"scale": {"fill": "independent", "stroke": "independent", "shape": "independent", "strokeDash": "independent", "strokeWidth": "independent"}, "legend": {"fill": "independent", "stroke": "independent", "shape": "independent", "strokeDash": "independent", "strokeWidth": "independent"}}},
 {"hconcat": [
  {"vconcat": [
   {"width": 412, "height": 326, "data": {"name": "p5"}, "resolve": {"axis": {"x": "independent", "y": "independent"}},
    "layer": [
     {"mark": {"type": "rect", "clip": true}, "encoding": {
       "x": {"field": "lo", "type": "quantitative", "scale": {"domain": [0.4, 3.4], "nice": false, "zero": false}, "axis": {"orient": "bottom", "values": [0.5,1,1.5,2,2.5,3], "tickSize": -9, "title": null}},
       "x2": {"field": "hi"},
       "y": {"field": "bl", "type": "quantitative", "scale": {"domain": [0.2, 149.6], "nice": false, "zero": false}, "axis": {"orient": "left", "values": [20,40,60,80,100,120,140], "tickSize": -12, "labels": true, "labelPadding": 15, "title": "dσ / dΔR(ℓ,j) [fb]", "titleAngle": -90, "titleAlign": "right", "titleBaseline": "alphabetic", "titleX": -47, "titleY": 0}},
       "y2": {"field": "bh"}}},
     {"mark": {"type": "line", "color": "black", "clip": true}, "transform": [{"fold": ["lo", "hi"], "as": ["k", "edge"]}], "encoding": {
       "x": {"field": "edge", "type": "quantitative", "axis": {"orient": "top", "values": [0.5,1,1.5,2,2.5,3], "tickSize": -9, "title": "CMS", "titleFontSize": 28, "titleFontWeight": "bold", "titleX": 0, "titleY": -6, "titleAlign": "left", "titleBaseline": "alphabetic"}},
       "y": {"field": "py", "type": "quantitative", "axis": {"orient": "right", "values": [20,40,60,80,100,120,140], "tickSize": -12, "title": " ", "titleX": 30, "titleY": 0, "titleAngle": 0, "titleAlign": "right"}},
       "order": [{"field": "edge", "type": "quantitative"}, {"field": "lo", "type": "quantitative"}]}},
     {"mark": {"type": "line", "color": "#0000ff", "strokeDash": [3, 2], "clip": true}, "transform": [{"fold": ["lo", "hi"], "as": ["k", "edge"]}], "encoding": {
       "x": {"field": "edge", "type": "quantitative", "axis": {"orient": "bottom", "values": [0.4,0.5,0.6,0.7,0.8,0.9,1,1.1,1.2,1.3,1.4,1.5,1.6,1.7,1.8,1.9,2,2.1,2.2,2.3,2.4,2.5,2.6,2.7,2.8,2.9,3,3.1,3.2,3.3,3.4], "tickSize": -4.5, "title": null}},
       "y": {"field": "hw", "type": "quantitative", "axis": {"orient": "left", "values": [5,10,15,20,25,30,35,40,45,50,55,60,65,70,75,80,85,90,95,100,105,110,115,120,125,130,135,140,145], "tickSize": -6, "title": null}},
       "order": [{"field": "edge", "type": "quantitative"}, {"field": "lo", "type": "quantitative"}]}},
     {"mark": {"type": "rule", "clip": true}, "encoding": {
       "x": {"field": "c", "type": "quantitative", "axis": {"orient": "top", "values": [0.4,0.5,0.6,0.7,0.8,0.9,1,1.1,1.2,1.3,1.4,1.5,1.6,1.7,1.8,1.9,2,2.1,2.2,2.3,2.4,2.5,2.6,2.7,2.8,2.9,3,3.1,3.2,3.3,3.4], "tickSize": -4.5, "title": "138 fb ⁻¹ (13 TeV)", "titleFontSize": 19, "titleX": 412, "titleY": -8, "titleAlign": "right", "titleBaseline": "alphabetic"}},
       "y": {"field": "el", "type": "quantitative", "axis": {"orient": "right", "values": [5,10,15,20,25,30,35,40,45,50,55,60,65,70,75,80,85,90,95,100,105,110,115,120,125,130,135,140,145], "tickSize": -6, "title": null}},
       "y2": {"field": "eh"}}},
     {"mark": {"type": "tick", "orient": "horizontal", "size": 10, "clip": true}, "transform": [{"fold": ["sl", "sh"], "as": ["k", "sv"]}], "encoding": {
       "x": {"field": "c", "type": "quantitative", "axis": null},
       "y": {"field": "sv", "type": "quantitative", "axis": null}}},
     {"mark": {"type": "point", "clip": true}, "encoding": {
       "x": {"field": "c", "type": "quantitative", "axis": null},
       "y": {"field": "o", "type": "quantitative", "axis": null}}},
     {"data": {"values": [{"s": "Observed"}, {"s": "MG5+PYTHIA8"}, {"s": "Theory unc."}, {"s": "χ² / dof = 3.3 / 5"}, {"s": "MG5+HERWIG7"}]},
      "mark": {"type": "point", "opacity": 0},
      "encoding": {
       "fill": {"field": "s", "type": "nominal", "title": null, "scale": {"domain": ["Observed", "MG5+PYTHIA8", "Theory unc.", "χ² / dof = 3.3 / 5", "MG5+HERWIG7"], "range": ["black", "transparent", "#d4d4d4", "transparent", "transparent"]}, "legend": {"orient": "none", "legendX": 248, "legendY": 10}},
       "stroke": {"field": "s", "type": "nominal", "title": null, "scale": {"domain": ["Observed", "MG5+PYTHIA8", "Theory unc.", "χ² / dof = 3.3 / 5", "MG5+HERWIG7"], "range": ["black", "black", "#333333", "transparent", "#0000ff"]}},
       "shape": {"field": "s", "type": "nominal", "title": null, "scale": {"domain": ["Observed", "MG5+PYTHIA8", "Theory unc.", "χ² / dof = 3.3 / 5", "MG5+HERWIG7"], "range": ["M0,-0.94V0.94M-0.59,-0.65H0.59M-0.59,0.65H0.59M-0.435,0A0.435,0.435,0,1,1,0.435,0A0.435,0.435,0,1,1,-0.435,0Z", "M-1.47,0H1.47", "M-1.41,-0.82H1.41V0.82H-1.41Z", "M0,0", "M-1.47,0H1.47"]}},
       "strokeDash": {"field": "s", "type": "nominal", "title": null, "scale": {"domain": ["Observed", "MG5+PYTHIA8", "Theory unc.", "χ² / dof = 3.3 / 5", "MG5+HERWIG7"], "range": [[1, 0], [1, 0], [1, 0], [1, 0], [3, 2]]}},
       "strokeWidth": {"field": "s", "type": "ordinal", "title": null, "scale": {"domain": ["Observed", "MG5+PYTHIA8", "Theory unc.", "χ² / dof = 3.3 / 5", "MG5+HERWIG7"], "range": [2, 2, 1, 0, 2]}}}}
    ]},
   {"width": 412, "height": 62, "data": {"name": "p5"}, "resolve": {"axis": {"x": "independent", "y": "independent"}},
    "layer": [
     {"mark": {"type": "rect", "clip": true}, "encoding": {
       "x": {"field": "lo", "type": "quantitative", "scale": {"domain": [0.4, 3.4], "nice": false, "zero": false}, "axis": {"orient": "bottom", "values": [0.5,1,1.5,2,2.5,3], "tickSize": -9, "labels": true, "labelPadding": 12.5, "title": "min ΔR(ℓ,j)", "titleX": 412, "titleY": 35, "titleAlign": "right", "titleBaseline": "alphabetic"}},
       "x2": {"field": "hi"},
       "y": {"field": "rbl", "type": "quantitative", "scale": {"domain": [0.395, 1.618], "nice": false, "zero": false}, "axis": {"orient": "left", "values": [0.5,1,1.5], "tickSize": -12, "labels": true, "labelPadding": 15, "title": "Pred. / Obs.", "titleAngle": -90, "titleAlign": "center", "titleBaseline": "alphabetic", "titleX": -46.5, "titleY": 36.5}},
       "y2": {"field": "rbh"}}},
     {"mark": {"type": "rule", "strokeWidth": 1}, "encoding": {"y": {"datum": 1, "type": "quantitative", "axis": null}}},
     {"mark": {"type": "line", "color": "black", "clip": true}, "transform": [{"fold": ["lo", "hi"], "as": ["k", "edge"]}], "encoding": {
       "x": {"field": "edge", "type": "quantitative", "axis": {"orient": "top", "values": [0.5,1,1.5,2,2.5,3], "tickSize": -9, "title": null}},
       "y": {"field": "rp", "type": "quantitative", "axis": {"orient": "right", "values": [0.5,1,1.5], "tickSize": -12, "title": null}},
       "order": [{"field": "edge", "type": "quantitative"}, {"field": "lo", "type": "quantitative"}]}},
     {"mark": {"type": "line", "color": "#0000ff", "strokeDash": [3, 2], "clip": true}, "transform": [{"fold": ["lo", "hi"], "as": ["k", "edge"]}], "encoding": {
       "x": {"field": "edge", "type": "quantitative", "axis": {"orient": "bottom", "values": [0.4,0.5,0.6,0.7,0.8,0.9,1,1.1,1.2,1.3,1.4,1.5,1.6,1.7,1.8,1.9,2,2.1,2.2,2.3,2.4,2.5,2.6,2.7,2.8,2.9,3,3.1,3.2,3.3,3.4], "tickSize": -4.5, "title": null}},
       "y": {"field": "rh", "type": "quantitative", "axis": {"orient": "left", "values": [0.5,0.6,0.7,0.8,0.9,1,1.1,1.2,1.3,1.4,1.5,1.6], "tickSize": -6, "title": null}},
       "order": [{"field": "edge", "type": "quantitative"}, {"field": "lo", "type": "quantitative"}]}},
     {"mark": {"type": "rule", "clip": true}, "encoding": {
       "x": {"field": "c", "type": "quantitative", "axis": {"orient": "top", "values": [0.4,0.5,0.6,0.7,0.8,0.9,1,1.1,1.2,1.3,1.4,1.5,1.6,1.7,1.8,1.9,2,2.1,2.2,2.3,2.4,2.5,2.6,2.7,2.8,2.9,3,3.1,3.2,3.3,3.4], "tickSize": -4.5, "title": null}},
       "y": {"field": "rel", "type": "quantitative", "axis": {"orient": "right", "values": [0.5,0.6,0.7,0.8,0.9,1,1.1,1.2,1.3,1.4,1.5,1.6], "tickSize": -6, "title": null}},
       "y2": {"field": "reh"}}},
     {"mark": {"type": "point", "clip": true}, "encoding": {
       "x": {"field": "c", "type": "quantitative", "axis": null},
       "y": {"datum": 1, "type": "quantitative", "axis": null}}}
    ]}
  ], "spacing": 1.5, "bounds": "flush", "resolve": {"scale": {"fill": "independent", "stroke": "independent", "shape": "independent", "strokeDash": "independent", "strokeWidth": "independent"}, "legend": {"fill": "independent", "stroke": "independent", "shape": "independent", "strokeDash": "independent", "strokeWidth": "independent"}}},
  {"vconcat": [
   {"width": 412, "height": 326, "data": {"name": "p6"}, "resolve": {"axis": {"x": "independent", "y": "independent"}},
    "layer": [
     {"mark": {"type": "rect", "clip": true}, "encoding": {
       "x": {"field": "lo", "type": "quantitative", "scale": {"domain": [30, 450], "nice": false, "zero": false}, "axis": {"orient": "bottom", "values": [50,100,150,200,250,300,350,400,450], "tickSize": -9, "title": null}},
       "x2": {"field": "hi"},
       "y": {"field": "bl", "type": "quantitative", "scale": {"domain": [0.005, 1.997], "nice": false, "zero": false}, "axis": {"orient": "left", "values": [0.2,0.4,0.6,0.8,1,1.2,1.4,1.6,1.8], "tickSize": -12, "labels": true, "labelPadding": 15, "title": "dσ / dpT(j₁) [fb / GeV]", "titleAngle": -90, "titleAlign": "right", "titleBaseline": "alphabetic", "titleX": -47, "titleY": 0}},
       "y2": {"field": "bh"}}},
     {"mark": {"type": "line", "color": "black", "clip": true}, "transform": [{"fold": ["lo", "hi"], "as": ["k", "edge"]}], "encoding": {
       "x": {"field": "edge", "type": "quantitative", "axis": {"orient": "top", "values": [50,100,150,200,250,300,350,400,450], "tickSize": -9, "title": "CMS", "titleFontSize": 28, "titleFontWeight": "bold", "titleX": 0, "titleY": -6, "titleAlign": "left", "titleBaseline": "alphabetic"}},
       "y": {"field": "py", "type": "quantitative", "axis": {"orient": "right", "values": [0.2,0.4,0.6,0.8,1,1.2,1.4,1.6,1.8], "tickSize": -12, "title": null}},
       "order": [{"field": "edge", "type": "quantitative"}, {"field": "lo", "type": "quantitative"}]}},
     {"mark": {"type": "line", "color": "#0000ff", "strokeDash": [3, 2], "clip": true}, "transform": [{"fold": ["lo", "hi"], "as": ["k", "edge"]}], "encoding": {
       "x": {"field": "edge", "type": "quantitative", "axis": {"orient": "bottom", "values": [30,40,50,60,70,80,90,100,110,120,130,140,150,160,170,180,190,200,210,220,230,240,250,260,270,280,290,300,310,320,330,340,350,360,370,380,390,400,410,420,430,440,450], "tickSize": -4.5, "title": null}},
       "y": {"field": "hw", "type": "quantitative", "axis": {"orient": "left", "values": [0.05,0.1,0.15,0.2,0.25,0.3,0.35,0.4,0.45,0.5,0.55,0.6,0.65,0.7,0.75,0.8,0.85,0.9,0.95,1,1.05,1.1,1.15,1.2,1.25,1.3,1.35,1.4,1.45,1.5,1.55,1.6,1.65,1.7,1.75,1.8,1.85,1.9,1.95], "tickSize": -6, "title": null}},
       "order": [{"field": "edge", "type": "quantitative"}, {"field": "lo", "type": "quantitative"}]}},
     {"mark": {"type": "rule", "clip": true}, "encoding": {
       "x": {"field": "c", "type": "quantitative", "axis": {"orient": "top", "values": [30,40,50,60,70,80,90,100,110,120,130,140,150,160,170,180,190,200,210,220,230,240,250,260,270,280,290,300,310,320,330,340,350,360,370,380,390,400,410,420,430,440,450], "tickSize": -4.5, "title": "138 fb ⁻¹ (13 TeV)", "titleFontSize": 19, "titleX": 412, "titleY": -8, "titleAlign": "right", "titleBaseline": "alphabetic"}},
       "y": {"field": "el", "type": "quantitative", "axis": {"orient": "right", "values": [0.05,0.1,0.15,0.2,0.25,0.3,0.35,0.4,0.45,0.5,0.55,0.6,0.65,0.7,0.75,0.8,0.85,0.9,0.95,1,1.05,1.1,1.15,1.2,1.25,1.3,1.35,1.4,1.45,1.5,1.55,1.6,1.65,1.7,1.75,1.8,1.85,1.9,1.95], "tickSize": -6, "title": null}},
       "y2": {"field": "eh"}}},
     {"mark": {"type": "tick", "orient": "horizontal", "size": 10, "clip": true}, "transform": [{"fold": ["sl", "sh"], "as": ["k", "sv"]}], "encoding": {
       "x": {"field": "c", "type": "quantitative", "axis": null},
       "y": {"field": "sv", "type": "quantitative", "axis": null}}},
     {"mark": {"type": "point", "clip": true}, "encoding": {
       "x": {"field": "c", "type": "quantitative", "axis": null},
       "y": {"field": "o", "type": "quantitative", "axis": null}}},
     {"data": {"values": [{"s": "Observed"}, {"s": "MG5+PYTHIA8"}, {"s": "Theory unc."}, {"s": "χ² / dof = 9.1 / 5"}, {"s": "MG5+HERWIG7"}]},
      "mark": {"type": "point", "opacity": 0},
      "encoding": {
       "fill": {"field": "s", "type": "nominal", "title": null, "scale": {"domain": ["Observed", "MG5+PYTHIA8", "Theory unc.", "χ² / dof = 9.1 / 5", "MG5+HERWIG7"], "range": ["black", "transparent", "#d4d4d4", "transparent", "transparent"]}, "legend": {"orient": "none", "legendX": 248.8, "legendY": 10}},
       "stroke": {"field": "s", "type": "nominal", "title": null, "scale": {"domain": ["Observed", "MG5+PYTHIA8", "Theory unc.", "χ² / dof = 9.1 / 5", "MG5+HERWIG7"], "range": ["black", "black", "#333333", "transparent", "#0000ff"]}},
       "shape": {"field": "s", "type": "nominal", "title": null, "scale": {"domain": ["Observed", "MG5+PYTHIA8", "Theory unc.", "χ² / dof = 9.1 / 5", "MG5+HERWIG7"], "range": ["M0,-0.94V0.94M-0.59,-0.65H0.59M-0.59,0.65H0.59M-0.435,0A0.435,0.435,0,1,1,0.435,0A0.435,0.435,0,1,1,-0.435,0Z", "M-1.47,0H1.47", "M-1.41,-0.82H1.41V0.82H-1.41Z", "M0,0", "M-1.47,0H1.47"]}},
       "strokeDash": {"field": "s", "type": "nominal", "title": null, "scale": {"domain": ["Observed", "MG5+PYTHIA8", "Theory unc.", "χ² / dof = 9.1 / 5", "MG5+HERWIG7"], "range": [[1, 0], [1, 0], [1, 0], [1, 0], [3, 2]]}},
       "strokeWidth": {"field": "s", "type": "ordinal", "title": null, "scale": {"domain": ["Observed", "MG5+PYTHIA8", "Theory unc.", "χ² / dof = 9.1 / 5", "MG5+HERWIG7"], "range": [2, 2, 1, 0, 2]}}}}
    ]},
   {"width": 412, "height": 62, "data": {"name": "p6"}, "resolve": {"axis": {"x": "independent", "y": "independent"}},
    "layer": [
     {"mark": {"type": "rect", "clip": true}, "encoding": {
       "x": {"field": "lo", "type": "quantitative", "scale": {"domain": [30, 450], "nice": false, "zero": false}, "axis": {"orient": "bottom", "values": [50,100,150,200,250,300,350,400,450], "tickSize": -9, "labels": true, "labelPadding": 12.5, "title": "pT(j₁) [GeV]", "titleX": 412, "titleY": 35, "titleAlign": "right", "titleBaseline": "alphabetic"}},
       "x2": {"field": "hi"},
       "y": {"field": "rbl", "type": "quantitative", "scale": {"domain": [0.395, 1.618], "nice": false, "zero": false}, "axis": {"orient": "left", "values": [0.5,1,1.5], "tickSize": -12, "labels": true, "labelPadding": 15, "title": "Pred. / Obs.", "titleAngle": -90, "titleAlign": "center", "titleBaseline": "alphabetic", "titleX": -46.5, "titleY": 36.5}},
       "y2": {"field": "rbh"}}},
     {"mark": {"type": "rule", "strokeWidth": 1}, "encoding": {"y": {"datum": 1, "type": "quantitative", "axis": null}}},
     {"mark": {"type": "line", "color": "black", "clip": true}, "transform": [{"fold": ["lo", "hi"], "as": ["k", "edge"]}], "encoding": {
       "x": {"field": "edge", "type": "quantitative", "axis": {"orient": "top", "values": [50,100,150,200,250,300,350,400,450], "tickSize": -9, "title": null}},
       "y": {"field": "rp", "type": "quantitative", "axis": {"orient": "right", "values": [0.5,1,1.5], "tickSize": -12, "title": null}},
       "order": [{"field": "edge", "type": "quantitative"}, {"field": "lo", "type": "quantitative"}]}},
     {"mark": {"type": "line", "color": "#0000ff", "strokeDash": [3, 2], "clip": true}, "transform": [{"fold": ["lo", "hi"], "as": ["k", "edge"]}], "encoding": {
       "x": {"field": "edge", "type": "quantitative", "axis": {"orient": "bottom", "values": [30,40,50,60,70,80,90,100,110,120,130,140,150,160,170,180,190,200,210,220,230,240,250,260,270,280,290,300,310,320,330,340,350,360,370,380,390,400,410,420,430,440,450], "tickSize": -4.5, "title": null}},
       "y": {"field": "rh", "type": "quantitative", "axis": {"orient": "left", "values": [0.5,0.6,0.7,0.8,0.9,1,1.1,1.2,1.3,1.4,1.5,1.6], "tickSize": -6, "title": null}},
       "order": [{"field": "edge", "type": "quantitative"}, {"field": "lo", "type": "quantitative"}]}},
     {"mark": {"type": "rule", "clip": true}, "encoding": {
       "x": {"field": "c", "type": "quantitative", "axis": {"orient": "top", "values": [30,40,50,60,70,80,90,100,110,120,130,140,150,160,170,180,190,200,210,220,230,240,250,260,270,280,290,300,310,320,330,340,350,360,370,380,390,400,410,420,430,440,450], "tickSize": -4.5, "title": null}},
       "y": {"field": "rel", "type": "quantitative", "axis": {"orient": "right", "values": [0.5,0.6,0.7,0.8,0.9,1,1.1,1.2,1.3,1.4,1.5,1.6], "tickSize": -6, "title": null}},
       "y2": {"field": "reh"}}},
     {"mark": {"type": "point", "clip": true}, "encoding": {
       "x": {"field": "c", "type": "quantitative", "axis": null},
       "y": {"datum": 1, "type": "quantitative", "axis": null}}}
    ]}
  ], "spacing": 1.5, "bounds": "flush", "resolve": {"scale": {"fill": "independent", "stroke": "independent", "shape": "independent", "strokeDash": "independent", "strokeWidth": "independent"}, "legend": {"fill": "independent", "stroke": "independent", "shape": "independent", "strokeDash": "independent", "strokeWidth": "independent"}}}
 ], "spacing": 40.5, "resolve": {"scale": {"fill": "independent", "stroke": "independent", "shape": "independent", "strokeDash": "independent", "strokeWidth": "independent"}, "legend": {"fill": "independent", "stroke": "independent", "shape": "independent", "strokeDash": "independent", "strokeWidth": "independent"}}}
]
}
